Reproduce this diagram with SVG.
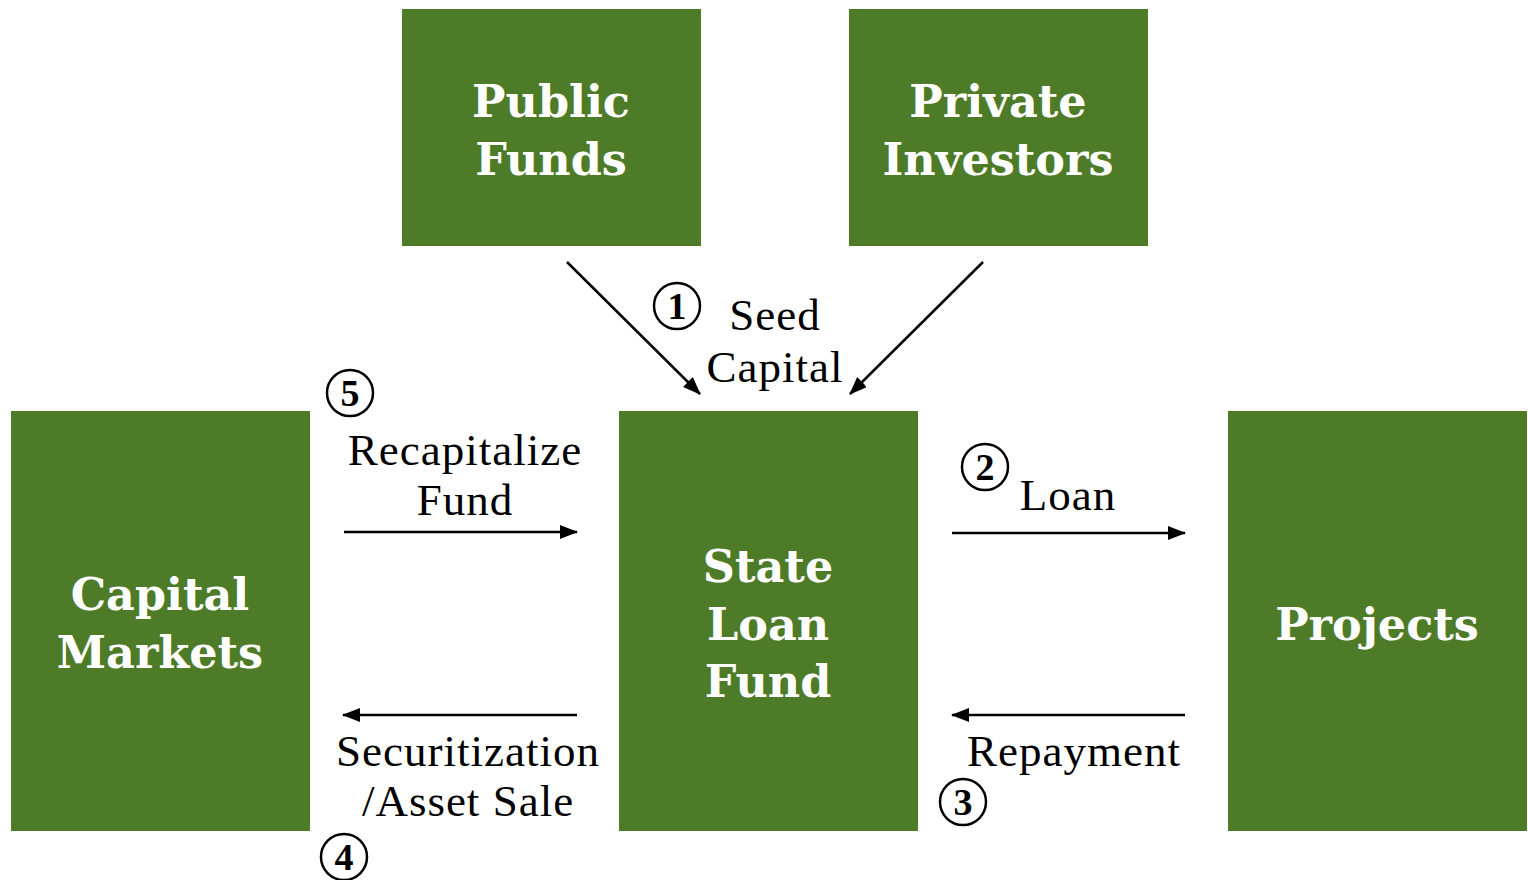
<svg xmlns="http://www.w3.org/2000/svg" width="1528" height="880" viewBox="0 0 1528 880">
<style>
.box{fill:#4E7B28}
.bt{font-family:"DejaVu Serif","Liberation Serif",serif;font-weight:bold;font-size:44.5px;fill:#fff;text-anchor:middle}
.lb{font-family:"Liberation Serif",serif;font-size:45px;letter-spacing:1px;fill:#000;text-anchor:middle}
.cn{fill:none;stroke:#000;stroke-width:2.5}
.cd{font-family:"Liberation Serif",serif;font-weight:bold;font-size:38px;fill:#000;text-anchor:middle}
.ar{stroke:#000;stroke-width:2.5;fill:none;marker-end:url(#ah)}
</style>
<defs>
<marker id="ah" markerWidth="18" markerHeight="14" refX="17" refY="7" orient="auto" markerUnits="userSpaceOnUse">
<path d="M0,0 L18,7 L0,14 Z" fill="#000"/>
</marker>
</defs>
<rect width="1528" height="880" fill="#fff"/>
<g id="public-funds"><rect class="box" x="402" y="9" width="299" height="237"/><text class="bt" x="551" y="117">Public</text><text class="bt" x="551" y="175">Funds</text></g>
<g id="private-investors"><rect class="box" x="849" y="9" width="299" height="237"/><text class="bt" x="998" y="117">Private</text><text class="bt" x="998" y="175">Investors</text></g>
<g id="capital-markets"><rect class="box" x="11" y="411" width="299" height="420"/><text class="bt" x="160" y="610">Capital</text><text class="bt" x="160" y="668">Markets</text></g>
<g id="state-loan-fund"><rect class="box" x="619" y="411" width="299" height="420"/><text class="bt" x="768" y="582">State</text><text class="bt" x="768" y="640">Loan</text><text class="bt" x="768" y="697">Fund</text></g>
<g id="projects"><rect class="box" x="1228" y="411" width="299" height="420"/><text class="bt" x="1377" y="640">Projects</text></g>
<g id="connectors">
<line class="ar" x1="567" y1="262" x2="700" y2="394"/>
<line class="ar" x1="983" y1="262" x2="850" y2="394"/>
<line class="ar" x1="344" y1="532" x2="577" y2="532"/>
<line class="ar" x1="952" y1="533" x2="1185" y2="533"/>
<line class="ar" x1="577" y1="715" x2="343" y2="715"/>
<line class="ar" x1="1185" y1="715" x2="952" y2="715"/>
</g>
<g id="labels">
<text class="lb" x="775" y="330">Seed</text>
<text class="lb" x="775" y="382">Capital</text>
<text class="lb" x="465" y="465">Recapitalize</text>
<text class="lb" x="465" y="515">Fund</text>
<text class="lb" x="468" y="766">Securitization</text>
<text class="lb" x="468" y="816">/Asset Sale</text>
<text class="lb" x="1068" y="510">Loan</text>
<text class="lb" x="1074" y="766">Repayment</text>
</g>
<g id="step-numbers">
<circle class="cn" cx="677" cy="306" r="23"/><text class="cd" x="677" y="319">1</text>
<circle class="cn" cx="985" cy="467" r="23"/><text class="cd" x="985" y="480">2</text>
<circle class="cn" cx="963" cy="802" r="23"/><text class="cd" x="963" y="815">3</text>
<circle class="cn" cx="344" cy="857" r="23"/><text class="cd" x="344" y="870">4</text>
<circle class="cn" cx="350" cy="393" r="23"/><text class="cd" x="350" y="406">5</text>
</g>
</svg>
